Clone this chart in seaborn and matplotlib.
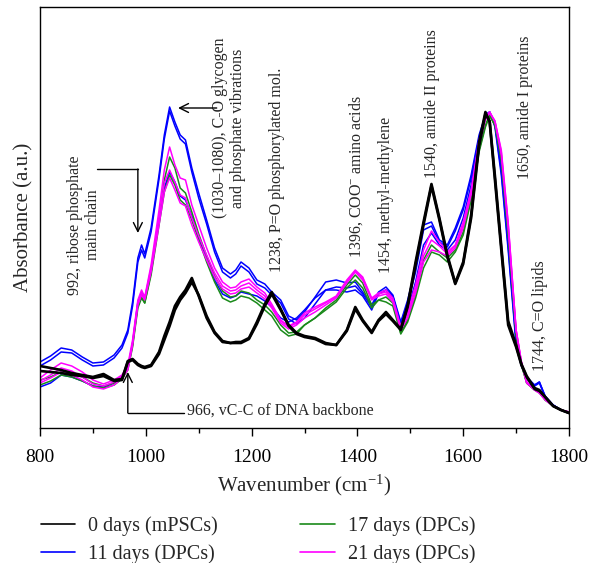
import numpy as np
import pandas as pd
import matplotlib
matplotlib.use("Agg")
import matplotlib.pyplot as plt
import seaborn as sns
from matplotlib.lines import Line2D

# ---------------- data ----------------
wavenumber = [800, 820, 840, 860, 880, 900, 920, 940, 955, 966,
              975, 985, 992, 998, 1010, 1025, 1035, 1045, 1055, 1065,
              1075, 1087, 1100, 1115, 1130, 1145, 1160, 1170, 1180, 1195,
              1210, 1225, 1238, 1255, 1270, 1285, 1300, 1320, 1340, 1360,
              1380, 1396, 1410, 1427, 1440, 1454, 1467, 1482, 1495, 1510,
              1525, 1540, 1555, 1570, 1585, 1600, 1615, 1630, 1642, 1650,
              1660, 1672, 1685, 1700, 1710, 1720, 1735, 1744, 1755, 1770,
              1785, 1800]

day0_a = [0.62, 0.60, 0.58, 0.55, 0.53, 0.51, 0.54, 0.48, 0.49, 0.67,
          0.69, 0.64, 0.62, 0.61, 0.63, 0.76, 0.92, 1.06, 1.22, 1.31,
          1.38, 1.50, 1.32, 1.10, 0.95, 0.86, 0.85, 0.86, 0.86, 0.90,
          1.06, 1.24, 1.36, 1.19, 1.03, 0.95, 0.92, 0.90, 0.85, 0.83,
          0.98, 1.21, 1.08, 0.96, 1.08, 1.16, 1.08, 0.99, 1.23, 1.66,
          2.06, 2.44, 2.10, 1.73, 1.45, 1.66, 2.13, 2.86, 3.16, 3.06,
          2.48, 1.78, 1.03, 0.81, 0.63, 0.51, 0.39, 0.37, 0.31, 0.22,
          0.18, 0.15]
day0_b = [0.57, 0.56, 0.55, 0.53, 0.52, 0.50, 0.52, 0.47, 0.48, 0.66,
          0.68, 0.63, 0.61, 0.60, 0.62, 0.74, 0.88, 1.02, 1.18, 1.28,
          1.35, 1.46, 1.33, 1.12, 0.96, 0.87, 0.85, 0.85, 0.85, 0.89,
          1.04, 1.22, 1.34, 1.18, 1.02, 0.94, 0.91, 0.89, 0.84, 0.83,
          0.97, 1.19, 1.07, 0.95, 1.07, 1.14, 1.07, 0.98, 1.21, 1.63,
          2.03, 2.42, 2.08, 1.71, 1.44, 1.64, 2.10, 2.82, 3.14, 3.07,
          2.52, 1.82, 1.07, 0.83, 0.64, 0.52, 0.40, 0.38, 0.31, 0.22,
          0.18, 0.15]

day11_a = [0.66, 0.72, 0.80, 0.78, 0.71, 0.65, 0.66, 0.73, 0.83, 0.98,
           1.26, 1.70, 1.83, 1.74, 2.00, 2.53, 2.93, 3.21, 3.06, 2.93,
           2.88, 2.60, 2.35, 2.08, 1.80, 1.60, 1.54, 1.58, 1.66, 1.60,
           1.48, 1.44, 1.36, 1.28, 1.12, 1.08, 1.16, 1.31, 1.46, 1.48,
           1.45, 1.46, 1.36, 1.23, 1.36, 1.41, 1.33, 1.06, 1.28, 1.60,
           2.03, 2.06, 1.88, 1.83, 2.00, 2.21, 2.53, 2.93, 3.13, 3.16,
           3.01, 2.53, 1.78, 0.83, 0.62, 0.50, 0.42, 0.45, 0.31, 0.23,
           0.18, 0.15]
day11_b = [0.62, 0.68, 0.76, 0.75, 0.68, 0.62, 0.63, 0.70, 0.80, 0.95,
           1.22, 1.66, 1.78, 1.70, 1.96, 2.49, 2.89, 3.17, 3.02, 2.89,
           2.84, 2.56, 2.30, 2.04, 1.76, 1.56, 1.50, 1.54, 1.62, 1.56,
           1.44, 1.40, 1.33, 1.25, 1.09, 1.04, 1.10, 1.24, 1.38, 1.41,
           1.40, 1.42, 1.34, 1.21, 1.34, 1.38, 1.31, 1.05, 1.25, 1.56,
           1.98, 2.02, 1.86, 1.81, 1.97, 2.18, 2.50, 2.90, 3.12, 3.16,
           3.03, 2.57, 1.82, 0.86, 0.63, 0.51, 0.43, 0.46, 0.31, 0.23,
           0.18, 0.15]
day11_c = [0.41, 0.45, 0.53, 0.51, 0.47, 0.42, 0.41, 0.45, 0.51, 0.60,
           0.85, 1.26, 1.35, 1.29, 1.58, 2.08, 2.40, 2.56, 2.46, 2.32,
           2.28, 2.12, 1.90, 1.68, 1.48, 1.34, 1.30, 1.32, 1.36, 1.34,
           1.32, 1.27, 1.21, 1.10, 1.06, 1.10, 1.18, 1.30, 1.38, 1.38,
           1.36, 1.38, 1.32, 1.18, 1.35, 1.38, 1.32, 1.00, 1.18, 1.46,
           1.83, 1.95, 1.83, 1.78, 1.88, 2.10, 2.43, 2.90, 3.13, 3.16,
           3.04, 2.63, 1.88, 0.90, 0.64, 0.49, 0.43, 0.46, 0.32, 0.23,
           0.18, 0.15]

day17_a = [0.48, 0.51, 0.56, 0.54, 0.51, 0.45, 0.42, 0.45, 0.50, 0.60,
           0.83, 1.23, 1.31, 1.25, 1.56, 2.08, 2.48, 2.71, 2.60, 2.40,
           2.35, 2.16, 1.94, 1.72, 1.52, 1.37, 1.31, 1.32, 1.37, 1.35,
           1.28, 1.23, 1.16, 1.03, 0.95, 0.96, 1.03, 1.10, 1.20, 1.28,
           1.43, 1.53, 1.45, 1.23, 1.28, 1.31, 1.25, 0.95, 1.08, 1.33,
           1.68, 1.83, 1.76, 1.70, 1.78, 1.96, 2.30, 2.78, 3.03, 3.13,
           3.03, 2.68, 1.93, 0.93, 0.63, 0.45, 0.38, 0.37, 0.28, 0.22,
           0.18, 0.16]
day17_b = [0.43, 0.47, 0.53, 0.51, 0.47, 0.42, 0.40, 0.43, 0.49, 0.58,
           0.81, 1.20, 1.30, 1.25, 1.53, 2.03, 2.36, 2.53, 2.43, 2.28,
           2.23, 2.08, 1.88, 1.66, 1.46, 1.30, 1.26, 1.28, 1.32, 1.30,
           1.25, 1.18, 1.12, 0.98, 0.92, 0.94, 1.03, 1.10, 1.18, 1.26,
           1.40, 1.48, 1.40, 1.20, 1.28, 1.26, 1.22, 0.94, 1.06, 1.30,
           1.60, 1.76, 1.73, 1.66, 1.76, 1.93, 2.28, 2.76, 3.01, 3.12,
           3.03, 2.70, 1.96, 0.95, 0.64, 0.45, 0.38, 0.35, 0.28, 0.22,
           0.18, 0.16]

day21_a = [0.50, 0.58, 0.65, 0.62, 0.56, 0.48, 0.44, 0.48, 0.53, 0.63,
           0.88, 1.28, 1.38, 1.31, 1.63, 2.18, 2.58, 2.81, 2.63, 2.50,
           2.48, 2.23, 2.03, 1.80, 1.60, 1.46, 1.40, 1.41, 1.46, 1.49,
           1.41, 1.35, 1.24, 1.08, 1.02, 1.06, 1.15, 1.21, 1.26, 1.32,
           1.48, 1.58, 1.51, 1.30, 1.35, 1.38, 1.30, 1.01, 1.16, 1.43,
           1.78, 1.97, 1.86, 1.76, 1.83, 2.06, 2.38, 2.88, 3.11, 3.16,
           3.06, 2.73, 2.00, 0.98, 0.66, 0.46, 0.39, 0.36, 0.29, 0.22,
           0.18, 0.16]
day21_b = [0.45, 0.50, 0.56, 0.53, 0.48, 0.41, 0.39, 0.43, 0.50, 0.58,
           0.83, 1.23, 1.33, 1.28, 1.56, 2.03, 2.36, 2.50, 2.38, 2.25,
           2.22, 2.03, 1.86, 1.68, 1.51, 1.39, 1.34, 1.35, 1.39, 1.41,
           1.35, 1.29, 1.20, 1.05, 0.99, 1.03, 1.10, 1.16, 1.23, 1.30,
           1.45, 1.56, 1.48, 1.28, 1.32, 1.34, 1.26, 0.98, 1.10, 1.35,
           1.66, 1.78, 1.76, 1.72, 1.80, 2.00, 2.33, 2.83, 3.08, 3.15,
           3.07, 2.78, 2.06, 0.98, 0.66, 0.45, 0.38, 0.35, 0.28, 0.22,
           0.18, 0.16]
day21_c = [0.47, 0.53, 0.60, 0.57, 0.51, 0.44, 0.42, 0.46, 0.52, 0.60,
           0.85, 1.25, 1.35, 1.30, 1.60, 2.10, 2.45, 2.58, 2.46, 2.33,
           2.30, 2.10, 1.92, 1.73, 1.55, 1.42, 1.37, 1.38, 1.42, 1.45,
           1.38, 1.32, 1.22, 1.07, 1.01, 1.05, 1.13, 1.19, 1.25, 1.31,
           1.47, 1.57, 1.50, 1.29, 1.34, 1.36, 1.28, 1.00, 1.13, 1.39,
           1.72, 1.88, 1.82, 1.74, 1.82, 2.03, 2.36, 2.86, 3.10, 3.16,
           3.07, 2.76, 2.04, 0.98, 0.66, 0.46, 0.38, 0.35, 0.29, 0.22,
           0.18, 0.16]

groups = ["0 days (mPSCs)", "11 days (DPCs)", "17 days (DPCs)", "21 days (DPCs)"]
spectra = {
    "0 days (mPSCs)": [day0_a, day0_b],
    "11 days (DPCs)": [day11_a, day11_b, day11_c],
    "17 days (DPCs)": [day17_a, day17_b],
    "21 days (DPCs)": [day21_a, day21_b, day21_c],
}
colors = {"0 days (mPSCs)": "#000000", "11 days (DPCs)": "#0000ff",
          "17 days (DPCs)": "#1a8a1a", "21 days (DPCs)": "#ff00ff"}
widths = {"0 days (mPSCs)": 1.9, "11 days (DPCs)": 1.1,
          "17 days (DPCs)": 1.1, "21 days (DPCs)": 1.1}

rows = []
for g in groups:
    for r, vals in enumerate(spectra[g]):
        for w, v in zip(wavenumber, vals):
            rows.append({"group": g, "rep": r, "wavenumber": w, "absorbance": v})
df = pd.DataFrame(rows)

# ---------------- style ----------------
sns.set_style("ticks")
plt.rcParams["font.family"] = ["Liberation Serif", "DejaVu Serif"]
plt.rcParams["mathtext.fontset"] = "custom"
plt.rcParams["mathtext.rm"] = "Liberation Serif"
plt.rcParams["mathtext.it"] = "Liberation Serif:italic"
plt.rcParams["axes.edgecolor"] = "black"
plt.rcParams["xtick.color"] = "black"
plt.rcParams["lines.solid_joinstyle"] = "round"

fig = plt.figure(figsize=(5.89, 5.63), dpi=100)
ax = fig.add_axes([40 / 589, (563 - 428) / 563, 529 / 589, 421 / 563])

for g in ["11 days (DPCs)", "17 days (DPCs)", "21 days (DPCs)", "0 days (mPSCs)"]:
    sub = df[df["group"] == g]
    sns.lineplot(data=sub, x="wavenumber", y="absorbance", units="rep",
                 estimator=None, color=colors[g], linewidth=widths[g],
                 ax=ax, legend=False)

ax.set_xlim(800, 1800)
ax.set_ylim(0, 4.21)
ax.set_yticks([])
ax.set_xticks([800, 1000, 1200, 1400, 1600, 1800])
ax.set_xticks([900, 1100, 1300, 1500, 1700], minor=True)
ax.tick_params(axis="x", which="major", direction="out", length=6, width=1.0,
               labelsize=14, pad=9)
ax.tick_params(axis="x", which="minor", direction="out", length=3.5, width=1.0)
for s in ax.spines.values():
    s.set_linewidth(1.0)
    s.set_color("black")
ax.set_ylabel("Absorbance (a.u.)", fontsize=15, labelpad=5)
ax.set_xlabel(r"Wavenumber (cm$^{-1}$)", fontsize=15, labelpad=5)

# ---------------- annotations ----------------
fs = 11.5
ax.text(883, 2.03, "992, ribose phosphate\nmain chain", rotation=90,
        ha="center", va="center", multialignment="center", fontsize=fs)
ax.text(1157, 3.00, "(1030\u20131080), C-O glycogen\nand phosphate vibrations",
        rotation=90, ha="center", va="center", multialignment="center", fontsize=fs)
ax.text(1248, 2.58, "1238, P=O phosphorylated mol.", rotation=90,
        ha="center", va="center", fontsize=fs)
ax.text(1397, 2.51, r"1396, COO$^{-}$ amino acids", rotation=90,
        ha="center", va="center", fontsize=fs)
ax.text(1454, 2.33, "1454, methyl-methylene", rotation=90,
        ha="center", va="center", fontsize=fs)
ax.text(1541, 3.24, "1540, amide II proteins", rotation=90,
        ha="center", va="center", fontsize=fs)
ax.text(1717, 3.21, "1650, amide I proteins", rotation=90,
        ha="center", va="center", fontsize=fs)
ax.text(1745, 1.12, "1744, C=O lipids", rotation=90,
        ha="center", va="center", fontsize=fs)
ax.text(1078, 0.17, "966, vC-C of DNA backbone", ha="left", va="center",
        fontsize=fs)

arrow_kw = dict(arrowstyle="->", color="black", lw=1.0, mutation_scale=16,
                shrinkA=0, shrinkB=0)
# 992 arrow
ax.plot([908, 985], [2.59, 2.59], color="black", lw=1.0)
ax.annotate("", xy=(985, 1.95), xytext=(985, 2.59), arrowprops=arrow_kw)
# glycogen arrow
ax.annotate("", xy=(1061, 3.20), xytext=(1134, 3.20), arrowprops=arrow_kw)
# 966 arrow
ax.plot([1073, 966], [0.15, 0.15], color="black", lw=1.0)
ax.annotate("", xy=(966, 0.56), xytext=(966, 0.15), arrowprops=arrow_kw)

# ---------------- legend ----------------
handles = [Line2D([], [], color=colors[g], lw=1.2) for g in groups]
fig.legend(handles, groups, loc="upper left", bbox_to_anchor=(0.069, 0.083),
           ncol=2, frameon=False, fontsize=14.5, handlelength=1.7,
           handletextpad=0.65, columnspacing=4.1, labelspacing=0.42,
           borderpad=0, borderaxespad=0)

fig.savefig("out.png", dpi=100)
